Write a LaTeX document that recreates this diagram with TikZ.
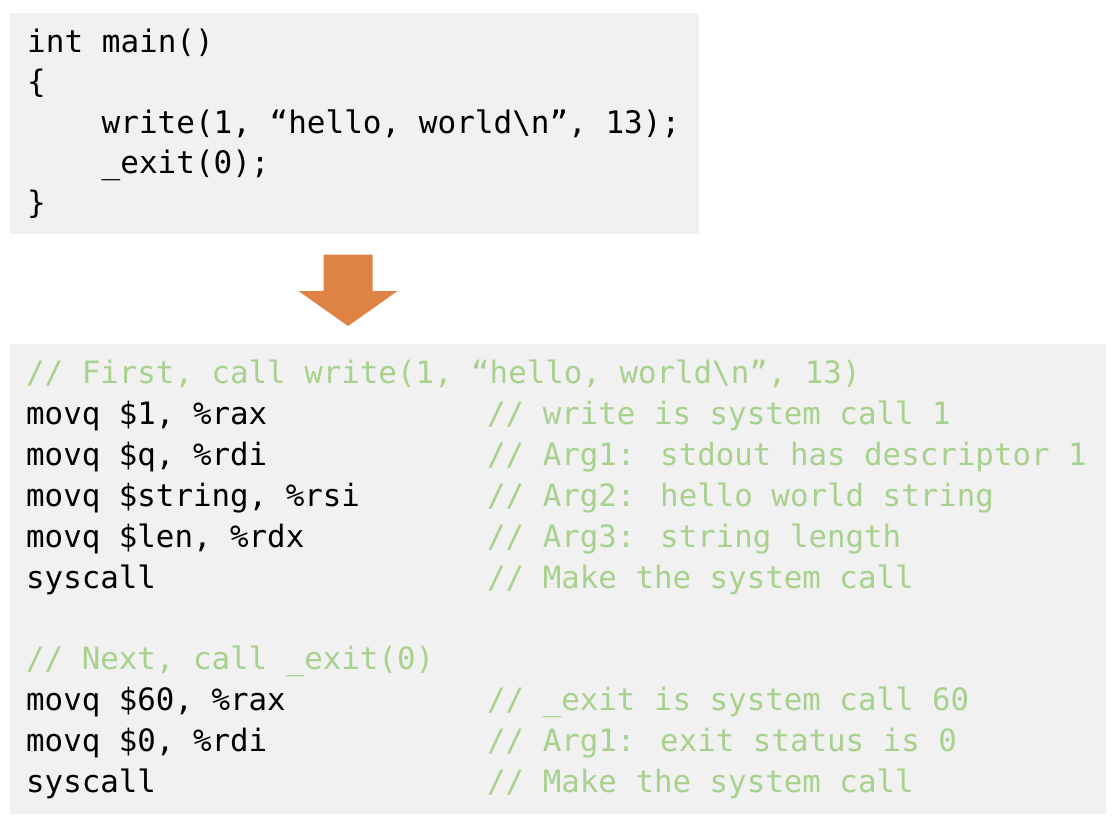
\documentclass[tikz,border=0pt]{standalone}
\usepackage{fontspec}
\newfontfamily\codefont{DejaVu Sans Mono}
\definecolor{boxgray}{HTML}{F1F1F1}
\definecolor{cmtgreen}{HTML}{A9D18E}
\definecolor{arroworange}{HTML}{DF8345}
\begin{document}
\begin{tikzpicture}[x=1pt,y=-1pt,
  box/.style={fill=boxgray, anchor=north west, inner sep=0pt, draw=none},
  srcline/.style={anchor=base west, inner sep=0pt, font=\codefont\fontsize{31}{40}\selectfont, text=black},
  asmline/.style={anchor=base west, inner sep=0pt, font=\codefont\fontsize{30.8}{41}\selectfont, text=black},
  cmt/.style={asmline, text=cmtgreen}]
\useasboundingbox (0,0) rectangle (1120,828);
% boxes
\node[box, minimum width=689pt, minimum height=221pt] (topbox) at (10,13) {};
\node[box, minimum width=1096pt, minimum height=470pt] (botbox) at (10,343.5) {};
% arrow
\fill[arroworange] (323.5,254.5) -- (372.5,254.5) -- (372.5,291) -- (397.5,291) -- (348,326) -- (298.5,291) -- (323.5,291) -- cycle;
% C source
\node[srcline] (s1) at (27,52.3) {int main()};
\node[srcline] (s2) at (27,92.6) {\{};
\node[srcline] (s3) at (101.5,133) {write(1, “hello, world\textbackslash n”, 13);};
\node[srcline] (s4) at (101.5,173.3) {\_exit(0);};
\node[srcline] (s5) at (27,213.6) {\}};
% assembly
\node[cmt] (a0) at (26,383.3) {// First, call write(1, “hello, world\textbackslash n”, 13)};
\node[asmline] (a1) at (26,424.25) {movq \$1, \%rax};
\node[asmline] (a2) at (26,465.2) {movq \$q, \%rdi};
\node[asmline] (a3) at (26,506.15) {movq \$string, \%rsi};
\node[asmline] (a4) at (26,547.1) {movq \$len, \%rdx};
\node[asmline] (a5) at (26,588.05) {syscall};
\node[cmt] (a7) at (26,669.95) {// Next, call \_exit(0)};
\node[asmline] (a8) at (26,710.9) {movq \$60, \%rax};
\node[asmline] (a9) at (26,751.85) {movq \$0, \%rdi};
\node[asmline] (a10) at (26,792.8) {syscall};
% comments
\node[cmt] (c1) at (487,424.25) {// write is system call 1};
\node[cmt] (c2) at (487,465.2) {// Arg1: stdout has descriptor 1};
\node[cmt] (c3) at (487,506.15) {// Arg2: hello world string};
\node[cmt] (c4) at (487,547.1) {// Arg3: string length};
\node[cmt] (c5) at (487,588.05) {// Make the system call};
\node[cmt] (c8) at (487,710.9) {// \_exit is system call 60};
\node[cmt] (c9) at (487,751.85) {// Arg1: exit status is 0};
\node[cmt] (c10) at (487,792.8) {// Make the system call};
\end{tikzpicture}
\end{document}
